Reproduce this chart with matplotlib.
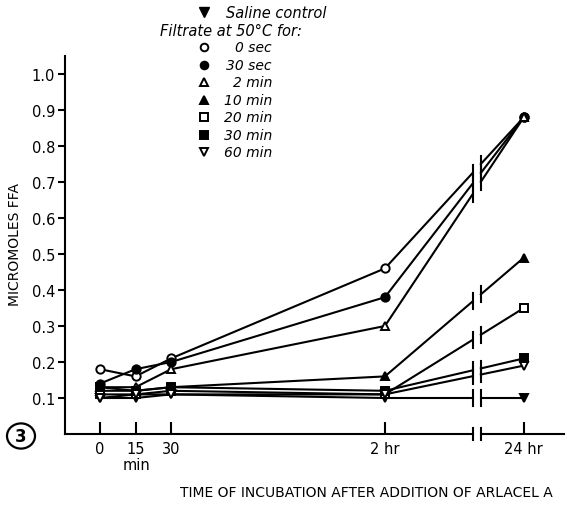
import numpy as np
import matplotlib
matplotlib.use("Agg")
import matplotlib.pyplot as plt
from matplotlib.patches import Circle

# sample times (plot units, roughly minutes; 24 hr sits after an axis break)
x_labels = ['0', '15', '30', '2 hr', '24 hr']
x_pos = [0, 15, 30, 120, 178.5]
break_lo, break_hi = 157.0, 160.4

# micromoles FFA per series
saline = [0.10, 0.10, 0.11, 0.10, 0.10]
sec0 = [0.18, 0.16, 0.21, 0.46, 0.88]
sec30 = [0.14, 0.18, 0.20, 0.38, 0.88]
min2 = [0.13, 0.13, 0.18, 0.30, 0.88]
min10 = [0.12, 0.12, 0.13, 0.16, 0.49]
min20 = [0.11, 0.11, 0.12, 0.11, 0.35]
min30 = [0.13, 0.12, 0.13, 0.12, 0.21]
min60 = [0.10, 0.11, 0.11, 0.11, 0.19]

series = [
    ('Saline control', saline, 'v', 'k'),
    ('0 sec', sec0, 'o', 'w'),
    ('30 sec', sec30, 'o', 'k'),
    ('2 min', min2, '^', 'w'),
    ('10 min', min10, '^', 'k'),
    ('20 min', min20, 's', 'w'),
    ('30 min', min30, 's', 'k'),
    ('60 min', min60, 'v', 'w'),
]

fig = plt.figure(figsize=(5.67, 5.10), dpi=100)
ax = fig.add_axes([65/567, 75/510, 499/567, 378/510])
x_min, x_max = -14.7, 195.4
ax.set_xlim(x_min, x_max)
ax.set_ylim(0, 1.05)

for spine in ['top', 'right', 'bottom']:
    ax.spines[spine].set_visible(False)
ax.spines['left'].set_linewidth(1.5)

lw = 1.5
ms = 6
for name, ys, mk, fc in series:
    xs = x_pos
    # part before the break
    ax.plot(xs[:4], ys[:4], color='k', lw=lw, zorder=2)
    # 2 hr -> 24 hr with a gap at the break
    f = lambda xv: ys[3] + (ys[4] - ys[3]) * (xv - xs[3]) / (xs[4] - xs[3])
    ax.plot([xs[3], break_lo], [ys[3], f(break_lo)], color='k', lw=lw, zorder=2)
    ax.plot([break_hi, xs[4]], [f(break_hi), ys[4]], color='k', lw=lw, zorder=2)
    for bx in (break_lo, break_hi):
        ax.plot([bx, bx], [f(bx) - 0.022, f(bx) + 0.022], color='k', lw=lw, zorder=2)
    ax.plot(xs, ys, linestyle='none', marker=mk, ms=ms, mfc=fc, mec='k', mew=1.4, zorder=3)

# bottom axis with break
ax.plot([x_min, break_lo], [0, 0], color='k', lw=1.5, clip_on=False)
ax.plot([break_hi, x_max], [0, 0], color='k', lw=1.5, clip_on=False)
for bx in (break_lo, break_hi):
    ax.plot([bx, bx], [-0.018, 0.018], color='k', lw=1.5, clip_on=False)

ax.set_xticks(x_pos)
ax.set_xticklabels(x_labels, fontsize=10.5)
ax.tick_params(axis='x', direction='in', length=9, width=1.5, pad=5)
ax.set_yticks(np.arange(0.1, 1.01, 0.1))
ax.set_yticklabels(['0.1', '0.2', '0.3', '0.4', '0.5', '0.6', '0.7', '0.8', '0.9', '1.0'], fontsize=10.5)
ax.tick_params(axis='y', direction='out', length=5, width=1.5, pad=2)

fig.text(136/567, 1 - 466/510, 'min', ha='center', va='center', fontsize=10.5)
fig.text(366/567, 1 - 493/510, 'TIME OF INCUBATION AFTER ADDITION OF ARLACEL A',
         ha='center', va='center', fontsize=10)
fig.text(15/567, 1 - 245/510, 'MICROMOLES FFA', rotation=90, ha='center', va='center', fontsize=10)

# figure number in a circle
fig.patches.append(Circle((21/567, 1 - 437/510), 14/567, transform=fig.transFigure,
                          fill=False, lw=1.6, ec='k', figure=fig))
fig.text(21/567, 1 - 437/510, '3', ha='center', va='center', fontsize=12, fontweight='bold')

# legend drawn by hand
leg_mx = 204
rows_y = [13, 31, 48, 66, 83, 101, 118, 136, 153]
fig.lines.append(plt.Line2D([leg_mx/567], [1 - rows_y[0]/510], marker='v', ms=6.5, mfc='k', mec='k',
                            transform=fig.transFigure, figure=fig))
fig.text(226/567, 1 - rows_y[0]/510, 'Saline control', style='italic', fontsize=10.5, va='center', ha='left')
fig.text(160/567, 1 - rows_y[1]/510, 'Filtrate at 50\u00b0C for:', style='italic', fontsize=10.5,
         va='center', ha='left')
for (name, ys, mk, fc), ry in zip(series[1:], rows_y[2:]):
    fig.lines.append(plt.Line2D([leg_mx/567], [1 - ry/510], marker=mk, ms=5.5, mfc=fc, mec='k', mew=1.4,
                                transform=fig.transFigure, figure=fig))
    fig.text(272/567, 1 - ry/510, name, style='italic', fontsize=10, va='center', ha='right')

fig.savefig('out.png', dpi=100)
